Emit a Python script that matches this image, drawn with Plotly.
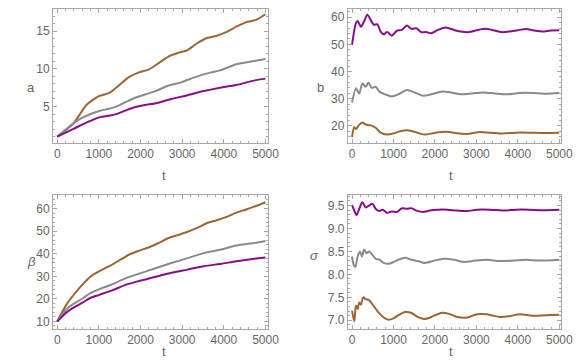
import plotly.graph_objects as go

# ---- data ----
# panel a (top left)
t_a_brown = [0, 380, 700, 850, 1010, 1250, 1480, 1720, 1950, 2190, 2420, 2660, 2890, 3130,
             3360, 3600, 3830, 4070, 4300, 4540, 4770, 5000]
a_brown = [1.0, 2.7, 5.2, 5.85, 6.4, 6.8, 7.8, 8.9, 9.5, 9.9, 10.7, 11.6, 12.1, 12.5,
           13.4, 14.1, 14.4, 14.9, 15.6, 16.2, 16.5, 17.25]
t_a_gray = [0, 500, 850, 1010, 1400, 1800, 1950, 2340, 2660, 2970, 3360, 3680, 3910, 4300, 4690, 5000]
a_gray = [1.0, 3.2, 4.1, 4.4, 4.95, 6.0, 6.3, 7.0, 7.75, 8.2, 9.0, 9.5, 9.8, 10.6, 11.0, 11.3]
t_a_purple = [0, 380, 780, 1010, 1400, 1800, 2110, 2340, 2740, 3130, 3520, 3910, 4300, 4690, 5000]
a_purple = [1.0, 2.0, 3.05, 3.55, 3.95, 4.8, 5.2, 5.4, 6.0, 6.5, 7.05, 7.5, 7.85, 8.4, 8.7]

# panel b (top right)
t_b_purple = [0, 95, 135, 215, 290, 370, 450, 530, 610, 690, 765, 845, 960, 1080, 1200, 1320,
              1435, 1555, 1670, 1790, 1910, 2070, 2260, 2460, 2620, 2820, 3010, 3210, 3410,
              3600, 3800, 4000, 4200, 4390, 4590, 4790, 5000]
b_purple = [49.8, 57.8, 58.6, 56.5, 58.4, 60.9, 59.0, 57.2, 57.4, 54.7, 53.7, 54.5, 53.2, 55.0,
            55.3, 56.9, 55.7, 55.9, 54.5, 54.5, 54.1, 55.3, 56.2, 55.3, 54.7, 54.5, 55.2, 55.7,
            55.2, 54.5, 54.7, 55.2, 55.6, 55.1, 54.7, 55.1, 55.2]
t_b_gray = [0, 95, 135, 175, 250, 330, 395, 475, 570, 660, 800, 960, 1120, 1320, 1510, 1710,
            1910, 2150, 2380, 2620, 2890, 3170, 3450, 3720, 4040, 4350, 4670, 5000]
b_gray = [28.6, 33.8, 32.8, 31.9, 35.6, 34.4, 36.0, 34.0, 34.4, 32.6, 31.6, 30.8, 31.6, 33.2,
          32.3, 31.1, 31.6, 32.6, 32.3, 31.6, 31.9, 32.3, 31.9, 31.6, 32.1, 32.1, 31.8, 32.1]
t_b_brown = [0, 55, 95, 160, 250, 330, 450, 570, 690, 845, 1000, 1160, 1320, 1510, 1750, 1990,
             2260, 2540, 2780, 3050, 3330, 3640, 3960, 4270, 4590, 5000]
b_brown = [15.9, 19.6, 18.8, 20.2, 21.2, 20.5, 20.2, 19.3, 17.5, 16.8, 17.2, 18.0, 18.4, 17.8,
           16.8, 17.4, 17.8, 17.3, 17.0, 17.7, 17.5, 17.2, 17.5, 17.5, 17.4, 17.5]

# panel beta (bottom left)
t_be_brown = [0, 230, 380, 540, 700, 850, 1010, 1250, 1480, 1720, 1950, 2190, 2420, 2660, 2890,
              3130, 3360, 3600, 3830, 4070, 4300, 4540, 4770, 5000]
be_brown = [10.0, 17.7, 21.4, 25.0, 28.2, 30.6, 32.3, 34.5, 37.0, 39.6, 41.3, 42.8, 44.7, 46.9,
            48.3, 49.8, 51.5, 53.7, 54.9, 56.4, 58.3, 59.7, 61.2, 62.9]
t_be_gray = [0, 230, 380, 620, 780, 1010, 1320, 1640, 1950, 2340, 2740, 3130, 3520, 3910, 4300, 4690, 5000]
be_gray = [10.0, 15.5, 17.7, 20.3, 22.4, 24.3, 26.5, 29.1, 31.1, 33.5, 35.9, 38.1, 40.3, 41.8,
           43.7, 44.7, 45.7]
t_be_purple = [0, 230, 380, 620, 780, 1010, 1320, 1640, 1950, 2340, 2740, 3130, 3520, 3910, 4300, 4690, 5000]
be_purple = [10.0, 14.1, 16.0, 18.5, 20.3, 21.8, 23.8, 26.2, 27.9, 29.7, 31.6, 33.0, 34.5, 35.5,
             36.7, 37.7, 38.4]

# panel sigma (bottom right)
t_s_purple = [0, 55, 110, 175, 250, 330, 410, 490, 570, 650, 740, 845, 960, 1080, 1200, 1320,
              1435, 1555, 1710, 1870, 2070, 2300, 2540, 2780, 3010, 3330, 3640, 3960, 4270, 4590, 5000]
s_purple = [9.51, 9.39, 9.29, 9.43, 9.57, 9.46, 9.50, 9.54, 9.43, 9.38, 9.41, 9.34, 9.37, 9.36,
            9.44, 9.43, 9.44, 9.39, 9.36, 9.39, 9.41, 9.41, 9.39, 9.38, 9.41, 9.41, 9.39, 9.41,
            9.41, 9.40, 9.41]
t_s_gray = [0, 40, 80, 135, 190, 240, 290, 350, 410, 490, 570, 660, 765, 885, 1000, 1120, 1280,
            1435, 1590, 1750, 1990, 2220, 2460, 2700, 2970, 3250, 3570, 3880, 4200, 4510, 5000]
s_gray = [8.39, 8.21, 8.16, 8.39, 8.50, 8.39, 8.54, 8.46, 8.50, 8.43, 8.34, 8.32, 8.25, 8.23,
          8.27, 8.32, 8.36, 8.32, 8.29, 8.25, 8.30, 8.34, 8.32, 8.27, 8.30, 8.32, 8.29, 8.30,
          8.32, 8.30, 8.32]
t_s_brown = [0, 55, 95, 135, 175, 215, 270, 330, 410, 530, 650, 765, 885, 1000, 1120, 1280, 1435,
             1590, 1750, 1910, 2150, 2340, 2540, 2780, 3010, 3250, 3570, 3800, 4040, 4350, 4670, 5000]
s_brown = [7.21, 6.98, 7.32, 7.25, 7.39, 7.34, 7.50, 7.46, 7.44, 7.30, 7.16, 7.06, 7.01, 7.04,
           7.11, 7.18, 7.16, 7.07, 7.03, 7.07, 7.16, 7.14, 7.07, 7.06, 7.13, 7.13, 7.07, 7.09,
           7.13, 7.10, 7.11, 7.12]

BROWN = "#9c6532"
GRAY = "#8a8a8a"
PURPLE = "#8a0c8a"
FRAME = "#a8a8a8"
TXT = "#666666"
FONT = "Liberation Sans"

W, H = 584, 361

fig = go.Figure()

# (axis suffix, x px range, y px range (top, bottom), y range, y dtick, y minor, curves)
panels = [
    ("", (46, 265), (1, 135), [0.15, 17.95], 5, 1,
     [(t_a_brown, a_brown, BROWN), (t_a_gray, a_gray, GRAY), (t_a_purple, a_purple, PURPLE)]),
    ("2", (347, 565), (1, 135), [13.7, 63.0], 10, 2,
     [(t_b_brown, b_brown, BROWN), (t_b_gray, b_gray, GRAY), (t_b_purple, b_purple, PURPLE)]),
    ("3", (46, 265), (187, 321), [6.65, 66.1], 10, 2,
     [(t_be_brown, be_brown, BROWN), (t_be_gray, be_gray, GRAY), (t_be_purple, be_purple, PURPLE)]),
    ("4", (347, 565), (187, 321), [6.81, 9.73], 0.5, 0.1,
     [(t_s_brown, s_brown, BROWN), (t_s_gray, s_gray, GRAY), (t_s_purple, s_purple, PURPLE)]),
]

for sfx, (x0, x1), (yt, yb), yr, ydt, ymin, curves in panels:
    for tx, vals, col in curves:
        fig.add_trace(go.Scatter(
            x=tx, y=vals, mode="lines", xaxis="x" + sfx, yaxis="y" + sfx,
            line=dict(color=col, width=2, shape="spline", smoothing=0.8),
            hoverinfo="skip", showlegend=False
        ))
    common = dict(showline=True, linecolor=FRAME, linewidth=1, mirror="ticks",
                  ticks="inside", ticklen=4, tickcolor=FRAME, showgrid=False,
                  zeroline=False, tickfont=dict(family=FONT, size=12, color=TXT))
    fig.layout["xaxis" + sfx] = dict(
        common, domain=[x0 / W, x1 / W], anchor="y" + sfx, range=[-100, 5050],
        tickvals=[0, 1000, 2000, 3000, 4000, 5000],
        minor=dict(ticks="inside", ticklen=2, tickcolor=FRAME, dtick=200, tick0=0))
    fig.layout["yaxis" + sfx] = dict(
        common, domain=[1 - yb / H, 1 - yt / H], anchor="x" + sfx, range=yr,
        dtick=ydt, tick0=0, tickformat=".1f" if ydt < 1 else "d",
        minor=dict(ticks="inside", ticklen=2, tickcolor=FRAME, dtick=ymin, tick0=0))

labels = [("a", 17, 70, False), ("t", 155, 167, False),
          ("b", 319, 70, False), ("t", 456, 167, False),
          ("β", 17, 263, True), ("t", 155, 353, False),
          ("σ", 313, 257, True), ("t", 456, 353, False)]
for txt, px, py, it in labels:
    fig.add_annotation(x=px / W, y=1 - py / H, xref="paper", yref="paper",
                       text="<i>%s</i>" % txt if it else txt, showarrow=False,
                       font=dict(family=FONT, size=13, color=TXT))

fig.update_layout(width=W, height=H, margin=dict(l=0, r=0, t=0, b=0),
                  paper_bgcolor="white", plot_bgcolor="white")

fig.write_html("out.html")
